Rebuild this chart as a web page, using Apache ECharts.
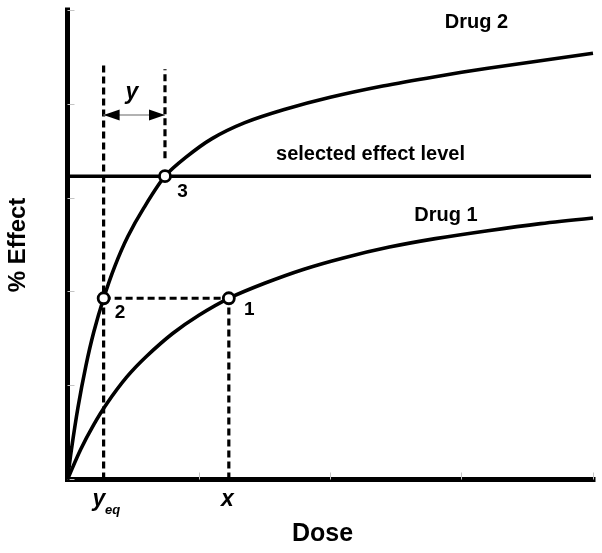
<!DOCTYPE html>
<html><head><meta charset="utf-8">
<script src="https://cdn.jsdelivr.net/npm/echarts@6/dist/echarts.min.js"></script>
<style>html,body{margin:0;padding:0;background:#fff}#chart{width:602px;height:553px}</style>
</head><body><div id="chart"></div>
<script>
// ---- data ----
const drug1Dose   = [0, 0.1, 0.2, 0.3, 0.45, 0.6, 0.8, 1.0, 1.228, 1.5, 1.8, 2.1, 2.45, 2.8, 3.2, 3.6, 4.0];
const drug1Effect = [0, 0.32, 0.585, 0.81, 1.09, 1.31, 1.555, 1.75, 1.93, 2.09, 2.24, 2.36, 2.475, 2.565, 2.65, 2.725, 2.785];
const drug2Dose   = [0, 0.03, 0.08, 0.14, 0.2, 0.275, 0.36, 0.46, 0.58, 0.742, 0.9, 1.1, 1.35, 1.65, 2.0, 2.4, 2.8, 3.2, 3.6, 4.0];
const drug2Effect = [0, 0.32, 0.77, 1.21, 1.57, 1.93, 2.27, 2.59, 2.89, 3.23, 3.43, 3.63, 3.80, 3.94, 4.07, 4.19, 4.29, 4.38, 4.46, 4.54];
const pointLabels = ['1', '2', '3'];
const pointDose   = [1.228, 0.275, 0.742];
const pointEffect = [1.93, 1.93, 3.23];
const selectedEffect = 3.23;
const selectedEnd = 3.985;
const yeqGuideTop = 4.45;
const yGuideTop = 4.37, yGuideBottom = 3.42;
const arrowLevel = 3.883;
const doseTicks = [0, 1, 2, 3, 4];
const effectTicks = [0, 1, 2, 3, 4, 5];

const zip = (a, b) => a.map((v, i) => [v, b[i]]);
const FONT = '"Liberation Sans", Arial, sans-serif';
const dash = [7, 4];

const chart = echarts.init(document.getElementById('chart'), null, {renderer: 'canvas'});
const axisCommon = {
  type: 'value', interval: 1,
  axisLine: {show: true, onZero: false, lineStyle: {color: '#000', width: 5, cap: 'square'}},
  axisTick: {show: true, inside: true, length: 7, lineStyle: {color: '#c4c4c4', width: 1}},
  axisLabel: {show: false}, splitLine: {show: false}
};
const arrowOffset = 8 / 131.5;
const dashed = {color: '#000', width: 3.2, type: dash};

chart.setOption({
  animation: false,
  backgroundColor: '#fff',
  grid: {left: 67.5, right: 9, top: 10, bottom: 73.5, containLabel: false},
  xAxis: Object.assign({}, axisCommon, {min: doseTicks[0], max: doseTicks[doseTicks.length - 1]}),
  yAxis: Object.assign({}, axisCommon, {min: effectTicks[0], max: effectTicks[effectTicks.length - 1]}),
  series: [
    {type: 'line', data: [[pointDose[1], 0], [pointDose[1], yeqGuideTop]], symbol: 'none', z: 2, lineStyle: dashed},
    {type: 'line', data: [[pointDose[2], yGuideBottom], [pointDose[2], yGuideTop]], symbol: 'none', z: 2, lineStyle: dashed},
    {type: 'line', data: [[pointDose[0], 0], [pointDose[0], pointEffect[0]]], symbol: 'none', z: 2, lineStyle: dashed},
    {type: 'line', data: [[pointDose[1], pointEffect[1]], [pointDose[0], pointEffect[0]]], symbol: 'none', z: 2, lineStyle: dashed},
    {type: 'line', data: [[0, selectedEffect], [selectedEnd, selectedEffect]], symbol: 'none', z: 3,
     lineStyle: {color: '#000', width: 3.5}},
    {type: 'line', data: zip(drug1Dose, drug1Effect), symbol: 'none', smooth: 0.3, z: 4,
     lineStyle: {color: '#000', width: 3.6}},
    {type: 'line', data: zip(drug2Dose, drug2Effect), symbol: 'none', smooth: 0.3, z: 4,
     lineStyle: {color: '#000', width: 3.6}},
    {type: 'line', data: [[pointDose[1], arrowLevel], [pointDose[2], arrowLevel]], symbol: 'none', z: 3,
     lineStyle: {color: '#999', width: 1.5}},
    {type: 'scatter', z: 5, symbol: 'triangle', symbolSize: [11, 16],
     itemStyle: {color: '#000', opacity: 1},
     data: [
       {value: [pointDose[1] + arrowOffset, arrowLevel], symbolRotate: 90},
       {value: [pointDose[2] - arrowOffset, arrowLevel], symbolRotate: -90}
     ]},
    {type: 'scatter', z: 6, symbol: 'circle', symbolSize: 11,
     itemStyle: {color: '#fff', borderColor: '#000', borderWidth: 2.8, opacity: 1},
     label: {show: true, position: 'inside', color: '#000', fontFamily: FONT, fontWeight: 'bold', fontSize: 19,
             formatter: p => pointLabels[p.dataIndex]},
     data: [
       {value: [pointDose[0], pointEffect[0]], label: {offset: [20.5, 11]}},
       {value: [pointDose[1], pointEffect[1]], label: {offset: [16.5, 14]}},
       {value: [pointDose[2], pointEffect[2]], label: {offset: [17.5, 15.5]}}
     ]}
  ],
  graphic: [
    {type: 'text', style: {text: 'Drug 2', x: 476.5, y: 22.5, textAlign: 'center', textVerticalAlign: 'middle', fill: '#000', font: 'bold 20px ' + FONT}},
    {type: 'text', style: {text: 'selected effect level', x: 370.5, y: 154, textAlign: 'center', textVerticalAlign: 'middle', fill: '#000', font: 'bold 20px ' + FONT}},
    {type: 'text', style: {text: 'Drug 1', x: 446, y: 215, textAlign: 'center', textVerticalAlign: 'middle', fill: '#000', font: 'bold 20px ' + FONT}},
    {type: 'text', rotation: Math.PI / 2, x: 18, y: 245, style: {text: '% Effect', x: 0, y: 0, textAlign: 'center', textVerticalAlign: 'middle', fill: '#000', font: 'bold 24px ' + FONT}},
    {type: 'text', style: {text: 'Dose', x: 322.5, y: 534, textAlign: 'center', textVerticalAlign: 'middle', fill: '#000', font: 'bold 25px ' + FONT}},
    {type: 'text', style: {text: 'x', x: 227.5, y: 500, textAlign: 'center', textVerticalAlign: 'middle', fill: '#000', font: 'italic bold 23px ' + FONT}},
    {type: 'text', style: {text: 'y', x: 99, y: 500, textAlign: 'center', textVerticalAlign: 'middle', fill: '#000', font: 'italic bold 23px ' + FONT}},
    {type: 'text', style: {text: 'eq', x: 112.5, y: 510, textAlign: 'center', textVerticalAlign: 'middle', fill: '#000', font: 'italic bold 13px ' + FONT}},
    {type: 'text', style: {text: 'y', x: 132, y: 93, textAlign: 'center', textVerticalAlign: 'middle', fill: '#000', font: 'italic bold 23px ' + FONT}}
  ]
});
</script></body></html>
